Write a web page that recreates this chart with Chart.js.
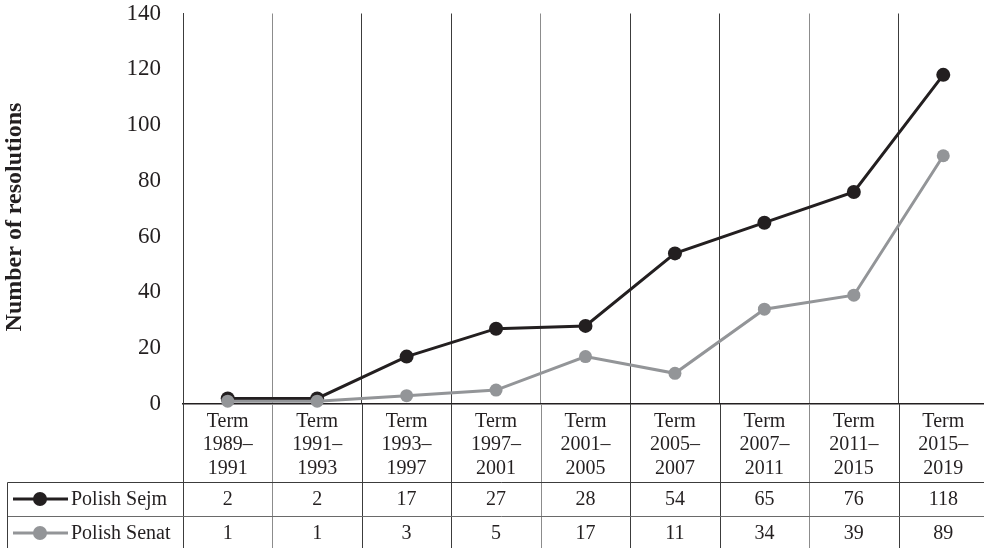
<!DOCTYPE html>
<html><head><meta charset="utf-8">
<script src="https://cdn.jsdelivr.net/npm/chart.js@4/dist/chart.umd.min.js"></script>
<style>
html,body{margin:0;padding:0;background:#fff;overflow:hidden;}
#wrap{width:996px;height:548px;position:relative;}
</style></head><body>
<div id="wrap"><canvas id="c" width="995" height="548"></canvas></div>
<script>
// ---- data ----
const categories = [
  ["Term","1989–","1991"],["Term","1991–","1993"],["Term","1993–","1997"],
  ["Term","1997–","2001"],["Term","2001–","2005"],["Term","2005–","2007"],
  ["Term","2007–","2011"],["Term","2011–","2015"],["Term","2015–","2019"]
];
const seriesNames = ["Polish Sejm", "Polish Senat"];
const sejmValues  = [2, 2, 17, 27, 28, 54, 65, 76, 118];
const senatValues = [1, 1, 3, 5, 17, 11, 34, 39, 89];
const yMin = 0, yMax = 140, yStep = 20;
const yAxisTitle = "Number of resolutions";

// ---- styles ----
const FONT = "'Liberation Serif', 'Times New Roman', serif";
const sejmColor = "#231f20";
const senatColor = "#939598";
function gridColor(i){ return [1,4,7].includes(i) ? "#8c8c8c" : "#3c3c3c"; }

const tablePlugin = {
  id: "dataTable",
  afterDraw(chart){
    const ctx = chart.ctx, ca = chart.chartArea, x = chart.scales.x;
    const n = categories.length;
    const colW = (ca.right - ca.left) / n;
    const bottom = chart.height + 2;
    const headBottom = ca.bottom + 78;
    const rowH = 34;
    const leftEdge = 7.5;
    ctx.save();
    ctx.lineWidth = 1;
    // vertical column lines below axis
    for (let i = 0; i <= n; i++){
      const xx = Math.round(x.getPixelForValue(0) - colW/2 + i*colW) + 0.5;
      ctx.strokeStyle = gridColor(i);
      ctx.beginPath(); ctx.moveTo(xx, ca.bottom); ctx.lineTo(xx, bottom); ctx.stroke();
    }
    // horizontal lines
    [headBottom, headBottom + rowH].forEach((yy, k) => {
      const y = Math.round(yy) + 0.5;
      ctx.strokeStyle = k === 0 ? "#3c3c3c" : "#6a6a6a";
      ctx.beginPath(); ctx.moveTo(leftEdge, y); ctx.lineTo(chart.width, y); ctx.stroke();
    });
    ctx.strokeStyle = "#3c3c3c";
    ctx.beginPath(); ctx.moveTo(leftEdge, Math.round(headBottom)+0.5); ctx.lineTo(leftEdge, bottom); ctx.stroke();

    // rows
    const rows = [
      {name: seriesNames[0], values: sejmValues, color: sejmColor},
      {name: seriesNames[1], values: senatValues, color: senatColor}
    ];
    ctx.font = "20px " + FONT;
    ctx.textBaseline = "middle";
    rows.forEach((r, k) => {
      const cy = headBottom + rowH*k + rowH/2;
      ctx.strokeStyle = r.color; ctx.lineWidth = 3;
      ctx.beginPath(); ctx.moveTo(13, cy); ctx.lineTo(68, cy); ctx.stroke();
      ctx.fillStyle = r.color;
      ctx.beginPath(); ctx.arc(40, cy, 7, 0, Math.PI*2); ctx.fill();
      ctx.fillStyle = "#231f20";
      ctx.textAlign = "left";
      ctx.fillText(r.name, 71, cy + 1);
      ctx.textAlign = "center";
      r.values.forEach((v, i) => {
        ctx.fillText(String(v), x.getPixelForValue(i), cy + 1);
      });
    });

    // y axis title
    ctx.save();
    ctx.translate(15, 217);
    ctx.rotate(-Math.PI/2);
    ctx.font = "bold 24px " + FONT;
    ctx.textAlign = "center";
    ctx.textBaseline = "middle";
    ctx.fillStyle = "#231f20";
    ctx.fillText(yAxisTitle, 0, 0);
    ctx.restore();
    ctx.restore();
  }
};

new Chart(document.getElementById("c"), {
  type: "line",
  data: {
    labels: categories,
    datasets: [
      { label: seriesNames[0], data: sejmValues, borderColor: sejmColor, backgroundColor: sejmColor,
        borderWidth: 3, pointRadius: 7, pointHoverRadius: 7, pointBorderWidth: 0, tension: 0, clip: false, order: 1 },
      { label: seriesNames[1], data: senatValues, borderColor: senatColor, backgroundColor: senatColor,
        borderWidth: 3, pointRadius: 6.5, pointHoverRadius: 6.5, pointBorderWidth: 0, tension: 0, clip: false, order: 0 }
    ]
  },
  options: {
    responsive: false,
    animation: false,
    devicePixelRatio: 1,
    layout: { padding: { top: 13.5, left: 0, right: 0, bottom: 0 } },
    plugins: { legend: { display: false }, tooltip: { enabled: false } },
    scales: {
      x: {
        offset: true,
        grid: { offset: true, drawTicks: false, color: (c) => gridColor(c.index), lineWidth: 1 },
        border: { display: true, color: "#231f20", width: 1.5 },
        ticks: { color: "#231f20", font: { family: FONT, size: 20, lineHeight: 1.17 }, padding: 6, maxRotation: 0, autoSkip: false },
        afterFit(s){ s.height = 144; s.paddingLeft = 0; s.paddingRight = 0; }
      },
      y: {
        min: yMin, max: yMax,
        grid: { display: false, drawTicks: false },
        border: { display: true, color: "#3c3c3c", width: 1 },
        ticks: { stepSize: yStep, color: "#231f20", font: { family: FONT, size: 23 }, padding: 22 },
        afterFit(s){ s.width = 183; s.paddingTop = 0; s.paddingBottom = 0; }
      }
    }
  },
  plugins: [tablePlugin]
});
</script>
</body></html>
